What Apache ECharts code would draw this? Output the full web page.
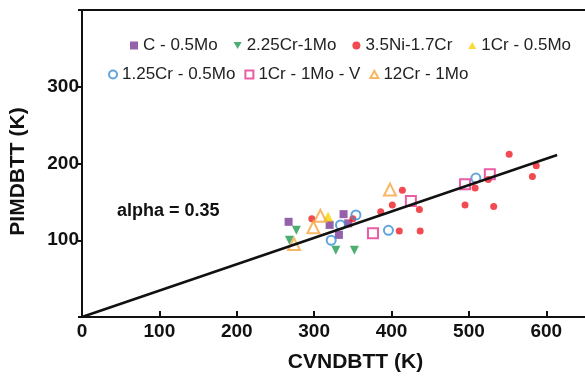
<!DOCTYPE html>
<html><head><meta charset="utf-8">
<script src="https://cdn.jsdelivr.net/npm/echarts@6/dist/echarts.min.js"></script>
<style>html,body{margin:0;padding:0;background:#fff}#c{width:585px;height:379px}</style>
</head><body><div id="c"></div><script>
// ---- data ----
const seriesNames = ['C - 0.5Mo','2.25Cr-1Mo','3.5Ni-1.7Cr','1Cr - 0.5Mo','1.25Cr - 0.5Mo','1Cr - 1Mo - V','12Cr - 1Mo'];
const cMoX   = [267, 320, 338, 332, 344];
const cMoY   = [124, 120, 134, 107, 122];
const cr225X = [277, 268, 328, 352];
const cr225Y = [113, 100, 87, 87];
const niCrX  = [297, 350, 386, 401, 410, 437, 414, 436, 495, 508, 525, 552, 587, 582, 532];
const niCrY  = [128, 128, 137, 146, 112, 112, 165, 140, 146, 168, 179, 212, 197, 183, 144];
const cr1MoX = [318];
const cr1MoY = [131];
const cr125X = [322, 334, 354, 396, 509];
const cr125Y = [100, 120, 133, 113, 181];
const crMoVX = [376, 425, 495, 527];
const crMoVY = [109, 151, 173, 186];
const cr12X  = [274, 299, 308, 398];
const cr12Y  = [95, 117, 132, 166];
const fitX   = [0, 614];
const fitY   = [0, 211];
const xTickLabels = ['0','100','200','300','400','500','600'];
const yTickLabels = ['100','200','300'];
const annotation = 'alpha = 0.35';

const zip = (xs, ys) => xs.map((x, i) => [x, ys[i]]);
const FONT = 'Liberation Sans';

function scatter(name, xs, ys, symbol, size, style) {
  return { name, type: 'scatter', data: zip(xs, ys), symbol, symbolSize: size,
           itemStyle: style, z: 3 };
}
const downTri = 'path://M0,0 L10,0 L5,9 Z';
const upTri = 'path://M5,0 L10,9 L0,9 Z';

const chart = echarts.init(document.getElementById('c'), null, {renderer: 'canvas'});
const axisLine = { lineStyle: { color: '#111', width: 2 } };
chart.setOption({
  animation: false,
  backgroundColor: '#fff',
  grid: { left: 82, right: 0, top: 10, bottom: 62 },
  legend: [
    { data: seriesNames.slice(0, 4), left: 125, top: 32, itemWidth: 8, itemHeight: 8, itemGap: 16,
      textStyle: { fontFamily: FONT, fontSize: 17, color: '#222' } },
    { data: seriesNames.slice(4), left: 103, top: 61, itemWidth: 8, itemHeight: 8, itemGap: 9,
      textStyle: { fontFamily: FONT, fontSize: 17, color: '#222' } }
  ],
  xAxis: [{
    type: 'value', min: 0, max: 650, interval: 100,
    name: 'CVNDBTT (K)', nameLocation: 'middle', nameGap: 35,
    nameTextStyle: { fontFamily: FONT, fontSize: 21, fontWeight: 'bold', color: '#111', padding: [0, 0, 0, 44] },
    axisLine, splitLine: { show: false },
    axisTick: { inside: true, length: 6, lineStyle: { color: '#111', width: 2 } },
    axisLabel: { fontFamily: FONT, fontSize: 19, fontWeight: 'bold', color: '#111', margin: 5, showMaxLabel: false,
      formatter: v => xTickLabels.includes(String(v)) ? String(v) : '' }
  }, {
    type: 'value', min: 0, max: 650, position: 'top',
    axisLine, axisTick: { show: false }, axisLabel: { show: false }, splitLine: { show: false }
  }],
  yAxis: {
    type: 'value', min: 0, max: 400, interval: 100,
    name: 'PIMDBTT (K)', nameLocation: 'middle', nameGap: 53,
    nameTextStyle: { fontFamily: FONT, fontSize: 21, fontWeight: 'bold', color: '#111', padding: [0, 16, 0, 0] },
    axisLine, splitLine: { show: false },
    axisTick: { inside: false, length: 4, lineStyle: { color: '#111', width: 2 } },
    axisLabel: { fontFamily: FONT, fontSize: 19, fontWeight: 'bold', color: '#111', margin: 3,
      formatter: v => yTickLabels.includes(String(v)) ? String(v) : '' }
  },
  graphic: [{ type: 'text', left: 117, top: 202,
    style: { text: annotation, font: 'bold 18px "Liberation Sans"', fill: '#111' } }],
  series: [
    scatter(seriesNames[0], cMoX, cMoY, 'rect', 8, { color: '#7b3a96' }),
    scatter(seriesNames[1], cr225X, cr225Y, downTri, 9, { color: '#1f9a4c' }),
    scatter(seriesNames[2], niCrX, niCrY, 'circle', 7, { color: '#ee1d24' }),
    scatter(seriesNames[3], cr1MoX, cr1MoY, upTri, 10, { color: '#f6d200' }),
    scatter(seriesNames[4], cr125X, cr125Y, 'circle', 9, { color: 'rgba(255,255,255,0)', borderColor: '#3a8fd3', borderWidth: 2 }),
    scatter(seriesNames[5], crMoVX, crMoVY, 'rect', 10, { color: 'rgba(255,255,255,0)', borderColor: '#e5338d', borderWidth: 2 }),
    scatter(seriesNames[6], cr12X, cr12Y, upTri, 12, { color: 'rgba(255,255,255,0)', borderColor: '#f6a53f', borderWidth: 2 }),
    { name: 'fit', type: 'line', data: zip(fitX, fitY), symbol: 'none', z: 5,
      lineStyle: { color: '#111', width: 2.5 } }
  ]
});
</script></body></html>
